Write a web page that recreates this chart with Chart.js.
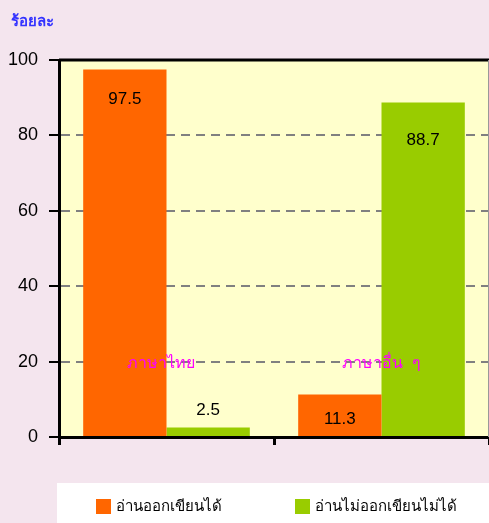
<!DOCTYPE html>
<html><head><meta charset="utf-8">
<script src="https://cdn.jsdelivr.net/npm/chart.js@4/dist/chart.umd.min.js"></script>
<style>
html,body{margin:0;padding:0;background:#F4E5EE;overflow:hidden;}
#wrap{width:489px;height:523px;position:relative;}
</style></head>
<body><div id="wrap"><canvas id="c" width="489" height="523"></canvas></div>
<script>
const categories = ['ภาษาไทย', 'ภาษาอื่น  ๆ'];
const seriesNames = ['อ่านออกเขียนได้', 'อ่านไม่ออกเขียนไม่ได้'];
const canRead = [97.5, 11.3];
const cannotRead = [2.5, 88.7];
const yTicks = [0, 20, 40, 60, 80, 100];
const yTitle = 'ร้อยละ';
// label offsets from bar top (px), style only
const labelOffsets = [[30, 25], [-17, 38]];

const colors = ['#FF6600', '#99CC00'];
const FONT = '"Liberation Sans", Arial, "Noto Sans", sans-serif';

const decor = {
  id: 'decor',
  beforeDraw(chart) {
    const {ctx, chartArea: a} = chart;
    ctx.save();
    ctx.fillStyle = '#F4E5EE';
    ctx.fillRect(0, 0, chart.width, chart.height);
    ctx.fillStyle = '#FFFFCC';
    ctx.fillRect(a.left, a.top, a.right - a.left, a.bottom - a.top);
    ctx.restore();
  },
  afterDatasetsDraw(chart) {
    const {ctx, chartArea: a, scales} = chart;
    ctx.save();
    ctx.strokeStyle = '#000';
    ctx.lineWidth = 3;
    ctx.beginPath();
    ctx.moveTo(a.left, a.top);
    ctx.lineTo(a.right, a.top);
    ctx.stroke();
    ctx.strokeStyle = '#999';
    ctx.lineWidth = 1;
    ctx.beginPath();
    ctx.moveTo(a.right - 0.5, a.top);
    ctx.lineTo(a.right - 0.5, a.bottom);
    ctx.stroke();
    ctx.font = '17px ' + FONT;
    ctx.fillStyle = '#000';
    ctx.textAlign = 'center';
    ctx.textBaseline = 'middle';
    chart.data.datasets.forEach((ds, di) => {
      const meta = chart.getDatasetMeta(di);
      meta.data.forEach((bar, i) => {
        ctx.fillText(String(ds.data[i]), bar.x, bar.y + labelOffsets[di][i]);
      });
    });
    ctx.font = '16px "Noto Sans", "DejaVu Sans", sans-serif';
    ctx.fillStyle = '#FF00FF';
    const yy = scales.y.getPixelForValue(20) + 2;
    chart.data.labels.forEach((lab, i) => {
      ctx.fillText(lab, scales.x.getPixelForValue(i) - (i === 0 ? 6 : 0), yy);
    });
    ctx.restore();
  },
  afterDraw(chart) {
    const {ctx} = chart;
    ctx.save();
    ctx.font = 'bold 15px "Noto Sans", "DejaVu Sans", sans-serif';
    ctx.fillStyle = '#3333FF';
    ctx.textAlign = 'left';
    ctx.textBaseline = 'middle';
    ctx.fillText(yTitle, 11, 22);
    ctx.fillStyle = '#FFFFFF';
    ctx.fillRect(57, 483, chart.width - 57, chart.height - 483);
    const xs = [96, 295];
    ctx.font = '15px "Noto Sans", "DejaVu Sans", sans-serif';
    chart.data.datasets.forEach((ds, di) => {
      ctx.fillStyle = ds.backgroundColor;
      ctx.fillRect(xs[di], 499, 15, 15);
      ctx.fillStyle = '#000';
      ctx.fillText(ds.label, xs[di] + 20, 507);
    });
    ctx.restore();
  }
};

new Chart(document.getElementById('c'), {
  type: 'bar',
  data: {
    labels: categories,
    datasets: [
      {label: seriesNames[0], data: canRead, backgroundColor: colors[0]},
      {label: seriesNames[1], data: cannotRead, backgroundColor: colors[1]}
    ]
  },
  options: {
    responsive: false,
    animation: false,
    events: [],
    layout: {padding: {top: 60, left: 0, right: 0, bottom: 0}},
    plugins: {legend: {display: false}, title: {display: false}, tooltip: {enabled: false}},
    datasets: {bar: {categoryPercentage: 0.775, barPercentage: 1.0}},
    scales: {
      x: {
        grid: {offset: true, drawOnChartArea: false, drawTicks: true, tickLength: 8, color: '#000', lineWidth: 3},
        border: {display: true, color: '#000', width: 3},
        ticks: {display: false},
        afterFit(s) { s.height = 86; }
      },
      y: {
        min: 0, max: 100,
        afterBuildTicks(s) { s.ticks = yTicks.map(v => ({value: v})); },
        grid: {
          color: (c) => (c.tick && (c.tick.value === 0 || c.tick.value === 100)) ? 'rgba(0,0,0,0)' : '#808080',
          lineWidth: 2,
          tickColor: '#000',
          tickBorderDash: [],
          tickLength: 10,
          tickWidth: 2
        },
        border: {display: true, color: '#000', width: 3, dash: [9, 6]},
        ticks: {color: '#000', font: {family: FONT, size: 18}, padding: 11},
        afterFit(s) { s.width = 59; }
      }
    }
  },
  plugins: [decor]
});
</script></body></html>
